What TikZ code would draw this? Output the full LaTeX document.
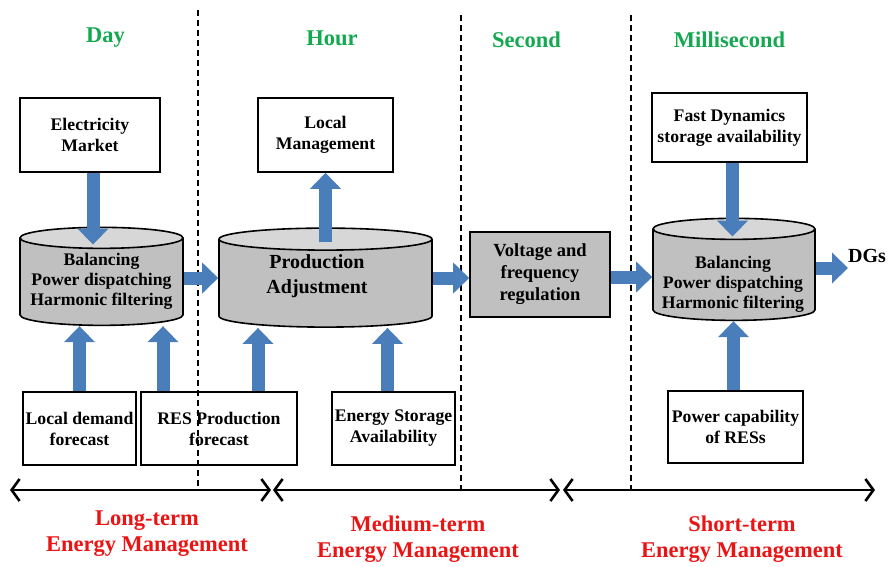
\documentclass[tikz,border=0pt]{standalone}
\usepackage{fontspec}
\setmainfont{Liberation Serif}
\usetikzlibrary{arrows.meta, shapes.geometric, calc}

\definecolor{phasegreen}{RGB}{20,168,80}
\definecolor{termred}{RGB}{235,20,20}
\definecolor{arrowblue}{RGB}{74,126,187}
\definecolor{cylgray}{RGB}{192,192,192}
\definecolor{cyltop}{RGB}{215,215,215}

\tikzset{
    box/.style={draw=black,line width=1.6pt,fill=white,rectangle,align=center,
        inner sep=1pt,font=\fontsize{17.7}{21}\selectfont\bfseries},
    cyl/.style={cylinder,shape border rotate=90,draw=black,line width=1.6pt,
        cylinder uses custom fill,cylinder body fill=cylgray,cylinder end fill=cyltop,
        aspect=0.14,inner sep=0pt},
    cyltext/.style={align=center,inner sep=0pt,font=\fontsize{17.7}{20}\selectfont\bfseries},
    blockarrow/.style={draw=arrowblue,line width=13pt,
        -{Triangle[length=16pt,width=30pt,fill=arrowblue]}},
    span/.style={draw=black,line width=2.6pt,
        {Straight Barb[length=8pt,width=22pt]}-{Straight Barb[length=8pt,width=22pt]}},
    divider/.style={draw=black,line width=1.2pt,dash pattern=on 6pt off 4pt},
    phase/.style={text=phasegreen,font=\fontsize{22.5}{26}\selectfont\bfseries},
    term/.style={text=termred,align=center,font=\fontsize{22.5}{26}\selectfont\bfseries}
}

\begin{document}
\begin{tikzpicture}[x=1pt,y=-1pt]
\useasboundingbox (0,0) rectangle (888,566);

% time scales
\node[phase] (day) at (105.5,38) {Day};
\node[phase] (hour) at (332,38) {Hour};
\node[phase] (second) at (526.5,40) {Second};
\node[phase] (msec) at (729.5,40) {Millisecond};

% long-term
\node[box,minimum width=140,minimum height=74] (market) at (90,135) {Electricity\\Market};
\node[cyl,minimum width=163,minimum height=98] (cyl1) at (101.5,282) {\hspace*{150pt}};
\node[cyltext] (cyl1txt) at (101.5,281) {Balancing\\Power dispatching\\Harmonic filtering};
\node[box,minimum width=113,minimum height=73] (demand) at (79.5,428.5) {Local demand\\forecast};
\node[box,minimum width=156,minimum height=73] (resprod) at (219,428.5) {RES Production\\forecast};

% medium-term
\node[box,minimum width=135,minimum height=74] (locmgmt) at (325.5,135) {Local\\Management};
\node[cyl,aspect=0.11,minimum width=213,minimum height=99] (cyl2) at (325.5,283.5) {\hspace*{200pt}};
\node[cyltext,font=\fontsize{20}{25}\selectfont\bfseries] (cyl2txt) at (317,276)
    {Production\\Adjustment};
\node[box,minimum width=123,minimum height=73] (storage) at (393.5,428.5) {Energy Storage\\Availability};
\node[box,fill=cylgray,minimum width=140,minimum height=85,
    font=\fontsize{18.5}{22}\selectfont\bfseries] (volt) at (540,274.5)
    {Voltage and\\frequency\\regulation};

% short-term
\node[box,minimum width=155,minimum height=69] (fastdyn) at (729.5,127.5)
    {Fast Dynamics\\storage availability};
\node[cyl,minimum width=162,minimum height=102] (cyl3) at (734,275) {\hspace*{150pt}};
\node[cyltext] (cyl3txt) at (733,284) {Balancing\\Power dispatching\\Harmonic filtering};
\node[box,minimum width=135,minimum height=72] (pcap) at (735.5,427) {Power capability\\of RESs};
\node[anchor=west,inner sep=0pt,font=\fontsize{20}{24}\selectfont\bfseries] (dgs) at (848,256) {DGs};

% dividers
\draw[divider] (198,10) -- (198,488);
\draw[divider] (461,15) -- (461,490);
\draw[divider] (631,15) -- (631,490);

% block arrows
\coordinate (c1top) at ($(cyl1.north)+(0,18)$);
\coordinate (c2top) at ($(cyl2.north)+(0,15)$);
\coordinate (c3top) at ($(cyl3.north)+(0,19)$);
\draw[blockarrow] ([xshift=3pt]market.south) -- ([xshift=3pt]market.south |- c1top);
\draw[blockarrow] ([yshift=4pt]cyl1.east) -- ([yshift=4pt]cyl1.east -| cyl2.west);
\draw[blockarrow] (c2top -| locmgmt.south) -- (locmgmt.south);
\draw[blockarrow] ([yshift=5.5pt]cyl2.east) -- ([yshift=5.5pt]cyl2.east -| volt.west);
\draw[blockarrow] ([yshift=-2.5pt]volt.east) -- ([yshift=-2.5pt]volt.east -| cyl3.west);
\draw[blockarrow] ([xshift=3pt]fastdyn.south) -- ([xshift=3pt]fastdyn.south |- c3top);
\draw[blockarrow] ([yshift=7pt]cyl3.east) -- ([yshift=7pt]cyl3.east -| dgs.west);
\draw[blockarrow] (demand.north) -- (demand.north |- cyl1.south);
\draw[blockarrow] ([xshift=-56pt]resprod.north) -- ([xshift=-56pt]resprod.north |- cyl1.south);
\draw[blockarrow] ([xshift=39pt]resprod.north) -- ([xshift=39pt]resprod.north |- cyl2.south);
\draw[blockarrow] ([xshift=-6pt]storage.north) -- ([xshift=-6pt]storage.north |- cyl2.south);
\draw[blockarrow] ([xshift=-2pt]pcap.north) -- ([xshift=-2pt]pcap.north |- cyl3.south);

% management horizons
\coordinate (s0) at (10,490);
\coordinate (s1) at (271,490);
\coordinate (s2) at (273,490);
\coordinate (s3) at (560,490);
\coordinate (s4) at (563,490);
\coordinate (s5) at (875,490);
\draw[span] (s0) -- (s1);
\draw[span] (s2) -- (s3);
\draw[span] (s4) -- (s5);

\node[term] (longterm) at (147,534) {Long-term\\Energy Management};
\node[term] (medterm) at (418,539) {Medium-term\\Energy Management};
\node[term] (shortterm) at (742,539) {Short-term\\Energy Management};
\end{tikzpicture}
\end{document}
